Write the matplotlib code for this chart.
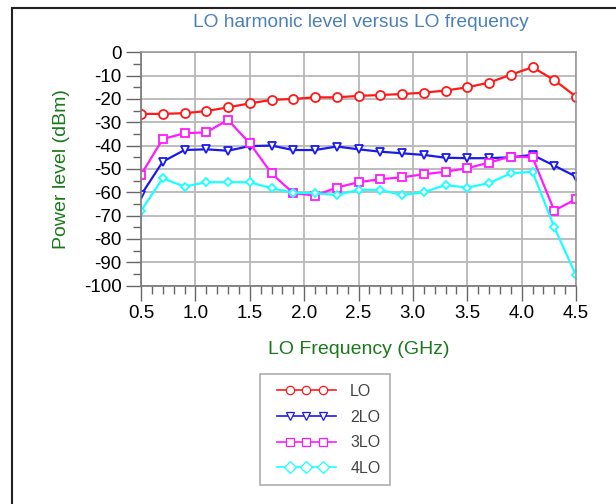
import matplotlib
matplotlib.use("Agg")
import matplotlib.pyplot as plt
from matplotlib.lines import Line2D
from matplotlib.legend_handler import HandlerLine2D, HandlerTuple
import numpy as np

plt.rcParams['font.family'] = ['Liberation Sans', 'DejaVu Sans']
plt.rcParams['axes.unicode_minus'] = False

# LO frequency points (GHz)
freq = [0.5, 0.7, 0.9, 1.1, 1.3, 1.5, 1.7, 1.9, 2.1, 2.3, 2.5,
        2.7, 2.9, 3.1, 3.3, 3.5, 3.7, 3.9, 4.1, 4.3, 4.5]

# harmonic levels (dBm)
lo = [-26.4, -26.4, -26.1, -25.2, -23.6, -21.9, -20.4, -20.0, -19.3, -19.3, -18.7,
      -18.3, -17.9, -17.3, -16.4, -15.0, -13.0, -9.6, -6.4, -11.9, -19.0]
lo2 = [-61.2, -46.9, -41.9, -41.6, -42.2, -40.2, -40.0, -41.9, -41.9, -40.4, -41.6,
       -42.6, -43.3, -44.0, -45.2, -45.4, -45.4, -45.0, -44.0, -48.6, -53.3]
lo3 = [-52.5, -37.2, -34.7, -34.3, -29.0, -39.0, -51.9, -60.4, -61.4, -58.0, -55.7,
       -54.4, -53.6, -52.3, -51.2, -49.7, -47.3, -44.7, -45.0, -67.9, -62.9]
lo4 = [-68.0, -54.0, -57.6, -55.7, -55.7, -55.7, -58.3, -60.2, -60.4, -61.2, -59.0,
       -59.0, -61.2, -60.0, -56.9, -58.0, -56.1, -51.9, -51.2, -75.0, -95.7]

labels = ['LO', '2LO', '3LO', '4LO']
colors = ['#ff1a1a', '#1a1aee', '#ff1aff', '#1affff']
markers = ['o', 'v', 's', 'D']
msizes = [6.5, 6, 5.5, 4.5]

fig = plt.figure(figsize=(6.16, 5.04), dpi=100)
ax = fig.add_axes([0.2289, 0.4335, 0.7062, 0.4627])

for ys, lab, c, m, s in zip([lo, lo2, lo3, lo4], labels, colors, markers, msizes):
    ax.plot(freq, ys, color=c, lw=1.6, marker=m, ms=s, mfc='white', mew=1.3, label=lab)

ax.set_xlim(0.5, 4.5)
ax.set_ylim(-100, 0)
ax.set_xticks(np.arange(0.5, 4.51, 0.5))
ax.set_xticks(np.arange(0.5, 4.51, 0.1), minor=True)
ax.set_yticks(np.arange(-100, 1, 10))
ax.set_yticks(np.arange(-100, 1, 5), minor=True)
ax.set_xticklabels(['%.1f' % v for v in np.arange(0.5, 4.51, 0.5)])
ax.tick_params(which='major', length=11, width=1, color='#666666', labelsize=13.5, pad=3)
ax.tick_params(which='minor', length=6, width=1, color='#666666')
ax.grid(True, which='major', color='#b8b8b8', lw=1.3)
for sp in ax.spines.values():
    sp.set_color('#999999')
    sp.set_linewidth(1.2)
ax.spines['left'].set_color('#777777')
ax.spines['bottom'].set_color('#777777')

ax.set_xlabel('LO Frequency (GHz)', color='#1a7a1a', fontsize=14, labelpad=14)
ax.set_ylabel('Power level (dBm)', color='#1a7a1a', fontsize=14, labelpad=10)
fig.text(0.586, 0.955, 'LO harmonic level versus LO frequency', color='#4a80b8',
         fontsize=13.8, ha='center', va='center')

# legend: full-length line with three inset markers
handles, hmap = [], {}
for lab, c, m in zip(labels, colors, markers):
    ln = Line2D([], [], color=c, lw=1.2)
    mk = Line2D([], [], color=c, lw=0, marker=m, ms=6, mfc='white', mew=0.9)
    hmap[ln] = HandlerLine2D(numpoints=2, marker_pad=0)
    hmap[mk] = HandlerLine2D(numpoints=3, marker_pad=0.8)
    handles.append((ln, mk))
hmap[tuple] = HandlerTuple(ndivide=1, pad=0, xpad=0.45)
leg = fig.legend(handles, labels, handler_map=hmap, loc='upper left',
                 bbox_to_anchor=(0.422, 0.257), fontsize=11.5, frameon=True, fancybox=False,
                 handlelength=4.15, borderpad=0.6, labelspacing=0.66, handletextpad=0.9,
                 borderaxespad=0)
leg.get_frame().set_edgecolor('#999999')
leg.get_frame().set_linewidth(1.2)
for t in leg.get_texts():
    t.set_color('#444444')

# outer frame (left and top edges)
fig.add_artist(Line2D([0.0187, 0.0187], [0.0, 0.984], color='#222222', lw=1.5))
fig.add_artist(Line2D([0.0187, 1.0], [0.984, 0.984], color='#222222', lw=1.5))

fig.savefig('out.png', dpi=100)
